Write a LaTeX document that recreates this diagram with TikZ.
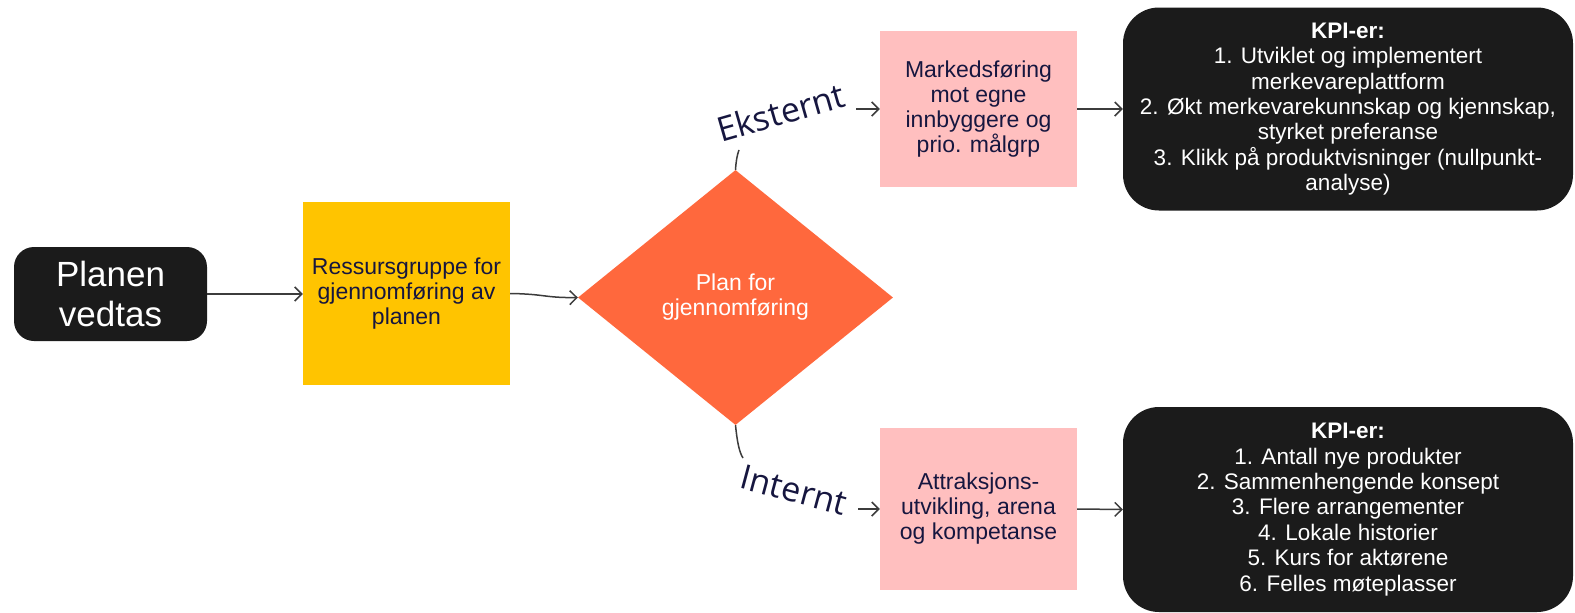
\documentclass[tikz,border=0pt]{standalone}
\usepackage{fontspec}
\setmainfont{Liberation Sans}
\newfontfamily\labfont{Open Sans}
\usetikzlibrary{shapes.geometric,arrows.meta}
\definecolor{navy}{HTML}{16163F}
\definecolor{boxblack}{HTML}{1B1B1B}
\definecolor{yel}{HTML}{FFC400}
\definecolor{orng}{HTML}{FF683D}
\definecolor{pink}{HTML}{FFBFBF}
\definecolor{conn}{HTML}{3C3C3C}
\tikzset{
  bodyfont/.style={font=\fontsize{23}{25}\selectfont},
  blackbox/.style={fill=boxblack, draw=none, text=white, align=center, inner sep=0pt},
  yelbox/.style={fill=yel, draw=none, text=navy, align=center, inner sep=0pt, bodyfont},
  pinkbox/.style={fill=pink, draw=none, text=navy, align=center, inner sep=0pt, bodyfont},
  decide/.style={diamond, fill=orng, draw=none, text=white, align=center, inner sep=0pt, bodyfont},
  kpibox/.style={blackbox, rounded corners=36pt, font=\fontsize{22.5}{25.4}\selectfont},
  branch/.style={text=navy, font=\labfont\fontsize{34}{34}\selectfont, inner sep=0pt},
  link/.style={draw=conn, line width=1.5pt},
  arr/.style={link, -{Straight Barb[length=7pt,width=14pt,line width=1.5pt]}},
}
\begin{document}
\begin{tikzpicture}[x=1pt,y=-1pt]
\useasboundingbox (0,0) rectangle (1575,613);
\fill[white] (0,0) rectangle (1575,613);

\node[blackbox, rounded corners=20pt, minimum width=193pt, minimum height=94pt,
      font=\fontsize{35}{40}\selectfont] (plan) at (110.5,294) {Planen\\vedtas};
\node[yelbox, minimum width=207pt, minimum height=183pt] (res) at (406.5,293.5)
      {Ressursgruppe for\\gjennomføring av\\planen};
\node[decide, minimum width=315pt, minimum height=255pt] (dia) at (735.5,297.5)
      {Plan for\\gjennomføring};
\node[pinkbox, minimum width=197pt, minimum height=156pt] (p1) at (978.5,109)
      {Markedsføring\\mot egne\\innbyggere og\\prio. målgrp};
\node[pinkbox, minimum width=197pt, minimum height=162pt] (p2) at (978.5,509)
      {Attraksjons-\\utvikling, arena\\og kompetanse};
\node[kpibox, minimum width=450pt, minimum height=203pt] (k1) at (1348,109)
      {\textbf{KPI-er:}\\1. Utviklet og implementert\\merkevareplattform\\2. Økt merkevarekunnskap og kjennskap,\\styrket preferanse\\3. Klikk på produktvisninger (nullpunkt-\\analyse)};
\node[kpibox, minimum width=450pt, minimum height=205pt] (k2) at (1348,509.5)
      {\textbf{KPI-er:}\\1. Antall nye produkter\\2. Sammenhengende konsept\\3. Flere arrangementer\\4. Lokale historier\\5. Kurs for aktørene\\6. Felles møteplasser};

\node[branch, rotate=16] (ext) at (781,112) {Eksternt};
\node[branch, rotate=-15] (int) at (794,490) {Internt};

\coordinate (etop) at (739,150);
\coordinate (ibot) at (743,458);
\coordinate (ea) at (856,109);
\coordinate (ia) at (858,509);

\draw[arr] (plan.east) -- (res.west |- plan.east);
\draw[arr] (res.east) .. controls (545,294) and (545,298) .. (dia.west);
\draw[link] (dia.north) .. controls (736,162) and (737,155) .. (etop);
\draw[link] (dia.south) .. controls (737,440) and (739,452) .. (ibot);
\draw[arr] (ea) -- (p1.west);
\draw[arr] (ia) -- (p2.west);
\draw[arr] (p1.east) -- (k1.west);
\draw[arr] (p2.east) -- (k2.west);
\end{tikzpicture}
\end{document}
